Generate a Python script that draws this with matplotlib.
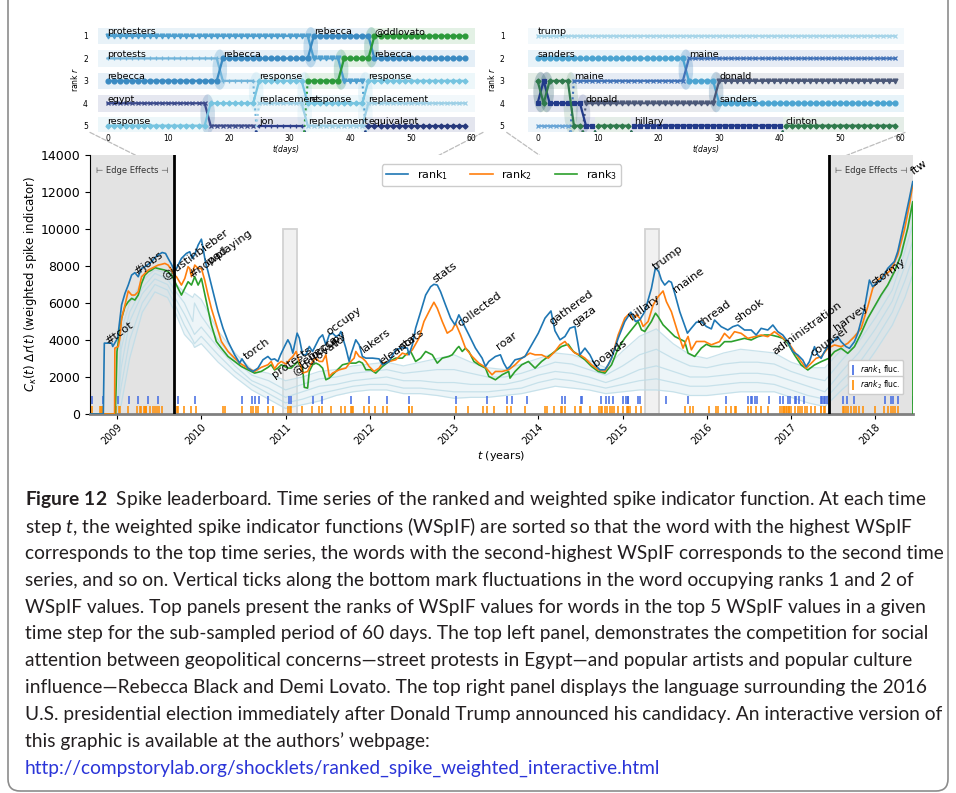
"""Spike leaderboard: ranked weighted spike indicator time series, two
60-day rank-flow insets and the figure caption underneath."""

import numpy as np
import matplotlib
matplotlib.use("Agg")
import matplotlib.pyplot as plt
from matplotlib.lines import Line2D
from matplotlib.patches import ConnectionPatch, Ellipse, FancyBboxPatch, Rectangle

plt.rcParams["mathtext.rm"] = "Lato"
plt.rcParams["mathtext.it"] = "Lato:italic"
plt.rcParams["mathtext.bf"] = "Lato:bold"

W, H = 956, 793

# ---------------------------------------------------------------- main data
RANK1 = [
    (2008.68, 0), (2008.838, 0), (2008.850, 3830), (2008.937, 3830), (2008.95, 3650),
    (2009.008, 4100), (2009.055, 5900), (2009.095, 6520), (2009.134, 6970), (2009.174, 7510),
    (2009.213, 7640), (2009.252, 7420), (2009.292, 7870), (2009.331, 7960), (2009.371, 8090),
    (2009.410, 8230), (2009.450, 8450), (2009.489, 8590), (2009.536, 8730), (2009.576, 8680),
    (2009.607, 8410), (2009.647, 8090), (2009.679, 7780), (2009.706, 7870), (2009.765, 8410),
    (2009.824, 8680), (2009.864, 8770), (2009.892, 8410), (2009.923, 8630), (2009.963, 9130),
    (2010.002, 9450), (2010.022, 8950), (2010.049, 8230), (2010.081, 7690), (2010.140, 6610),
    (2010.199, 5530), (2010.258, 4640), (2010.318, 3920), (2010.396, 3200), (2010.456, 2750),
    (2010.483, 2980), (2010.515, 2750), (2010.554, 2480), (2010.613, 2300), (2010.673, 2480),
    (2010.732, 2930), (2010.791, 3110), (2010.830, 2930), (2010.870, 2980), (2010.909, 2840),
    (2010.941, 3200), (2010.988, 3650), (2011.028, 4010), (2011.059, 3740), (2011.087, 3290),
    (2011.107, 3740), (2011.138, 4370), (2011.164, 4100), (2011.203, 3200), (2011.243, 3200),
    (2011.282, 3650), (2011.321, 3380), (2011.361, 3740), (2011.400, 4100), (2011.440, 4280),
    (2011.479, 3740), (2011.519, 4280), (2011.558, 4370), (2011.598, 4190), (2011.637, 4280),
    (2011.657, 4460), (2011.716, 3560), (2011.755, 2840), (2011.775, 3200), (2011.814, 3740),
    (2011.834, 4010), (2011.874, 3740), (2011.913, 3110), (2011.953, 3020), (2012.032, 3020),
    (2012.110, 2980), (2012.150, 2660), (2012.229, 2840), (2012.308, 3470), (2012.387, 3590),
    (2012.446, 3560), (2012.465, 3200), (2012.505, 3740), (2012.544, 4640), (2012.604, 5530),
    (2012.663, 6430), (2012.722, 6880), (2012.761, 7010), (2012.801, 6970), (2012.840, 6610),
    (2012.899, 5890), (2012.959, 5180), (2013.010, 4820), (2013.057, 5360), (2013.097, 5000),
    (2013.176, 4280), (2013.254, 3560), (2013.333, 3020), (2013.373, 2570), (2013.412, 2840),
    (2013.491, 3110), (2013.550, 3200), (2013.590, 2750), (2013.629, 2440), (2013.664, 2570),
    (2013.724, 2930), (2013.803, 3020), (2013.842, 3110), (2013.921, 3740), (2014.000, 4370),
    (2014.079, 5180), (2014.150, 5570), (2014.197, 4500), (2014.257, 4010), (2014.316, 4190),
    (2014.375, 4640), (2014.434, 4730), (2014.466, 3920), (2014.493, 3200), (2014.553, 3560),
    (2014.612, 3200), (2014.671, 2660), (2014.730, 2390), (2014.790, 2390), (2014.829, 2660),
    (2014.869, 3020), (2014.948, 4100), (2015.026, 5000), (2015.098, 5500), (2015.153, 5000),
    (2015.204, 5090), (2015.263, 5530), (2015.342, 6790), (2015.390, 7910), (2015.429, 7690),
    (2015.461, 7240), (2015.500, 6970), (2015.548, 7190), (2015.579, 7120), (2015.619, 6520),
    (2015.678, 5530), (2015.769, 4370), (2015.816, 4640), (2015.875, 4960), (2015.934, 5000),
    (2015.994, 4730), (2016.053, 4600), (2016.091, 5080), (2016.170, 4720), (2016.249, 4540),
    (2016.308, 4720), (2016.368, 4810), (2016.447, 4540), (2016.526, 4540), (2016.585, 4270),
    (2016.644, 4630), (2016.723, 4540), (2016.783, 4810), (2016.842, 4450), (2016.901, 4270),
    (2016.960, 3910), (2017.020, 3370), (2017.079, 3190), (2017.138, 2920), (2017.178, 2560),
    (2017.217, 2830), (2017.277, 3640), (2017.316, 3190), (2017.356, 3010), (2017.395, 3370),
    (2017.447, 3730), (2017.494, 3910), (2017.553, 4180), (2017.593, 3910), (2017.652, 3640),
    (2017.692, 3550), (2017.751, 3910), (2017.791, 4360), (2017.870, 5710), (2017.929, 7240),
    (2017.968, 6880), (2018.028, 7150), (2018.067, 7240), (2018.146, 7870), (2018.225, 8240),
    (2018.265, 8780), (2018.344, 10400), (2018.403, 11660), (2018.443, 12560),
]

RANK2 = [
    (2008.68, 0), (2008.972, 0), (2008.975, 3560), (2009.016, 3650), (2009.035, 4100),
    (2009.055, 5180), (2009.095, 5890), (2009.134, 6650), (2009.174, 6430), (2009.213, 6430),
    (2009.252, 6610), (2009.292, 7420), (2009.331, 7600), (2009.371, 7780), (2009.450, 7960),
    (2009.489, 8050), (2009.528, 8090), (2009.568, 8140), (2009.607, 8050), (2009.647, 7780),
    (2009.679, 7510), (2009.706, 7420), (2009.765, 6970), (2009.805, 7330), (2009.844, 7960),
    (2009.864, 7870), (2009.884, 7420), (2009.923, 8050), (2009.963, 7870), (2010.002, 7870),
    (2010.041, 7240), (2010.081, 6430), (2010.120, 5710), (2010.179, 4820), (2010.239, 3920),
    (2010.318, 3380), (2010.396, 3020), (2010.475, 2700), (2010.554, 2480), (2010.633, 2300),
    (2010.712, 2520), (2010.791, 2660), (2010.830, 2840), (2010.870, 2440), (2010.909, 2700),
    (2010.949, 2840), (2011.008, 2700), (2011.047, 2930), (2011.087, 3110), (2011.126, 3380),
    (2011.163, 2840), (2011.203, 2210), (2011.262, 2300), (2011.321, 2840), (2011.361, 3020),
    (2011.400, 2840), (2011.440, 2840), (2011.479, 3200), (2011.519, 2030), (2011.558, 2210),
    (2011.637, 2390), (2011.716, 2480), (2011.775, 2840), (2011.814, 3020), (2011.834, 3380),
    (2011.874, 3110), (2011.913, 3020), (2011.953, 2840), (2011.992, 2570), (2012.051, 2300),
    (2012.110, 2480), (2012.150, 2750), (2012.229, 2840), (2012.308, 2930), (2012.387, 3290),
    (2012.446, 3200), (2012.505, 3470), (2012.584, 4100), (2012.643, 5000), (2012.722, 5710),
    (2012.761, 6040), (2012.801, 5710), (2012.860, 5000), (2012.919, 4370), (2012.978, 4550),
    (2013.018, 4910), (2013.077, 4280), (2013.136, 3560), (2013.215, 3110), (2013.294, 2750),
    (2013.373, 2520), (2013.451, 2120), (2013.491, 2300), (2013.570, 2300), (2013.648, 2390),
    (2013.724, 2660), (2013.803, 3020), (2013.901, 3290), (2013.961, 3200), (2014.039, 3200),
    (2014.118, 3020), (2014.197, 3380), (2014.257, 3740), (2014.316, 3920), (2014.375, 3560),
    (2014.434, 3290), (2014.493, 3200), (2014.553, 3020), (2014.632, 2660), (2014.711, 2390),
    (2014.790, 2300), (2014.869, 3020), (2014.948, 4280), (2015.026, 5180), (2015.086, 5450),
    (2015.125, 5090), (2015.165, 5360), (2015.204, 5180), (2015.244, 4730), (2015.303, 5000),
    (2015.362, 5890), (2015.421, 6340), (2015.480, 6650), (2015.520, 6070), (2015.579, 5530),
    (2015.658, 4370), (2015.717, 3560), (2015.757, 4010), (2015.777, 4190), (2015.816, 3470),
    (2015.875, 3920), (2015.974, 3920), (2016.053, 3740), (2016.150, 3910), (2016.209, 4360),
    (2016.269, 4090), (2016.328, 4450), (2016.407, 4360), (2016.486, 4090), (2016.565, 4180),
    (2016.644, 4270), (2016.723, 4180), (2016.802, 4450), (2016.881, 4180), (2016.960, 3910),
    (2017.040, 3370), (2017.119, 2830), (2017.178, 2470), (2017.237, 2740), (2017.296, 3010),
    (2017.356, 3100), (2017.435, 3550), (2017.514, 3730), (2017.593, 3640), (2017.672, 3820),
    (2017.751, 4180), (2017.830, 4630), (2017.909, 5800), (2017.968, 6790), (2018.028, 7240),
    (2018.107, 7510), (2018.186, 7780), (2018.265, 8600), (2018.344, 9950), (2018.403, 11300),
    (2018.443, 12380),
]

RANK3 = [
    (2008.68, 0), (2008.98, 0), (2008.99, 1500), (2009.000, 3380), (2009.035, 4550),
    (2009.055, 5180), (2009.095, 5800), (2009.134, 6070), (2009.174, 6250), (2009.213, 6160),
    (2009.252, 6430), (2009.292, 7060), (2009.331, 7510), (2009.371, 7690), (2009.410, 7780),
    (2009.450, 7910), (2009.509, 7840), (2009.568, 7780), (2009.607, 7690), (2009.647, 7510),
    (2009.679, 7240), (2009.706, 6970), (2009.765, 6430), (2009.805, 6790), (2009.844, 7150),
    (2009.884, 6970), (2009.923, 7420), (2009.963, 6970), (2010.002, 7330), (2010.061, 6070),
    (2010.120, 4820), (2010.179, 3920), (2010.239, 3560), (2010.318, 3110), (2010.396, 2840),
    (2010.475, 2570), (2010.554, 2390), (2010.633, 2210), (2010.712, 2300), (2010.791, 2520),
    (2010.830, 2660), (2010.870, 2380), (2010.909, 2480), (2010.949, 2660), (2011.028, 2480),
    (2011.067, 2480), (2011.107, 2660), (2011.146, 2840), (2011.163, 2660), (2011.203, 2480),
    (2011.223, 1440), (2011.262, 1400), (2011.282, 2300), (2011.321, 2660), (2011.361, 2750),
    (2011.400, 2660), (2011.440, 2480), (2011.479, 1850), (2011.519, 1940), (2011.598, 2300),
    (2011.676, 2660), (2011.755, 2750), (2011.834, 2750), (2011.874, 2840), (2011.913, 2750),
    (2011.953, 2390), (2012.012, 2390), (2012.071, 2210), (2012.150, 2570), (2012.229, 2840),
    (2012.308, 3020), (2012.387, 3020), (2012.446, 3290), (2012.485, 3380), (2012.544, 2840),
    (2012.604, 3020), (2012.663, 3380), (2012.742, 3200), (2012.801, 2750), (2012.860, 3020),
    (2012.938, 3110), (2012.978, 3200), (2013.037, 3560), (2013.057, 3650), (2013.097, 3380),
    (2013.136, 3560), (2013.176, 3380), (2013.235, 2840), (2013.294, 2660), (2013.373, 2480),
    (2013.412, 2030), (2013.491, 1850), (2013.570, 2120), (2013.648, 2300), (2013.664, 1940),
    (2013.724, 2300), (2013.803, 2660), (2013.882, 2840), (2013.961, 2480), (2014.039, 2840),
    (2014.118, 3110), (2014.197, 3380), (2014.276, 3650), (2014.355, 3770), (2014.415, 3380),
    (2014.474, 3200), (2014.553, 2930), (2014.632, 2570), (2014.711, 2300), (2014.790, 2210),
    (2014.869, 2660), (2014.948, 3560), (2015.026, 4100), (2015.105, 4550), (2015.184, 5000),
    (2015.224, 4550), (2015.263, 4460), (2015.342, 5000), (2015.390, 5450), (2015.421, 5270),
    (2015.480, 4820), (2015.540, 4550), (2015.619, 4190), (2015.698, 4010), (2015.737, 3920),
    (2015.777, 3290), (2015.856, 3110), (2015.934, 3560), (2015.994, 3770), (2016.053, 3650),
    (2016.150, 3640), (2016.209, 3910), (2016.289, 3910), (2016.368, 4000), (2016.447, 4090),
    (2016.526, 4000), (2016.605, 4180), (2016.684, 4270), (2016.763, 4270), (2016.842, 4180),
    (2016.901, 4090), (2016.960, 3820), (2017.040, 3190), (2017.119, 2650), (2017.198, 2380),
    (2017.277, 2650), (2017.356, 2830), (2017.447, 3010), (2017.514, 3370), (2017.593, 3550),
    (2017.672, 3280), (2017.751, 3640), (2017.830, 4360), (2017.909, 5170), (2017.988, 5800),
    (2018.067, 6430), (2018.146, 6970), (2018.225, 7690), (2018.304, 8600), (2018.383, 10040),
    (2018.443, 11480), (2018.445, 0),
]

# lower-rank series (light blue background band)
BG_T = [2009.0, 2009.05, 2009.15, 2009.3, 2009.45, 2009.6, 2009.7, 2009.8, 2009.9, 2009.92,
        2010.0, 2010.2, 2010.4, 2010.6, 2010.8, 2011.0, 2011.2, 2011.4, 2011.6, 2011.8,
        2012.0, 2012.2, 2012.4, 2012.6, 2012.8, 2013.0, 2013.2, 2013.4, 2013.6, 2013.8,
        2014.0, 2014.2, 2014.4, 2014.6, 2014.8, 2015.0, 2015.2, 2015.4, 2015.6, 2015.8,
        2016.0, 2016.2, 2016.4, 2016.6, 2016.8, 2017.0, 2017.2, 2017.4, 2017.6, 2017.8,
        2018.0, 2018.2, 2018.35, 2018.44]
BG_A = [0, 4500, 6000, 7200, 7800, 7600, 7000, 6600, 6300, 6500, 6200, 4500, 3300, 2400, 2200,
        1800, 2000, 2300, 2400, 2600, 2700, 2800, 2600, 2800, 3000, 3200, 2800, 2500, 2400, 2700,
        3000, 3300, 3200, 2900, 2500, 3400, 4200, 4600, 3800, 3200, 3000, 3300, 3500, 3400, 3300,
        2800, 2500, 2500, 3500, 4500, 5800, 7300, 9500, 11000]
BG_B = [0, 3500, 5500, 6800, 7600, 7300, 6600, 6000, 5000, 6000, 5300, 4000, 2900, 2100, 1800,
        1300, 1600, 1900, 2000, 2200, 2300, 2400, 2200, 2300, 2400, 2400, 2200, 2000, 2000, 2200,
        2500, 2800, 2700, 2400, 2100, 2600, 3200, 3500, 3000, 2600, 2500, 2700, 2800, 2800, 2700,
        2300, 2000, 1800, 2900, 3900, 5200, 6700, 8800, 10200]
BG_C = [0, 2500, 5000, 6500, 7300, 7000, 6200, 5400, 4500, 4300, 4700, 3600, 2600, 1800, 1400,
        900, 1200, 1500, 1600, 1800, 1900, 2000, 1800, 1800, 1700, 1700, 1600, 1600, 1600, 1800,
        2100, 2300, 2200, 2000, 1700, 2000, 2400, 2600, 2300, 2000, 2000, 2100, 2200, 2200, 2100,
        1800, 1500, 1200, 2300, 3300, 4600, 6100, 8000, 9300]
BG_D = [0, 1500, 4000, 6000, 7000, 6700, 5800, 4800, 4000, 3800, 4200, 3200, 2300, 1600, 1100,
        600, 800, 1100, 1300, 1500, 1600, 1600, 1400, 1400, 1300, 1200, 1200, 1200, 1300, 1400,
        1700, 1900, 1800, 1600, 1400, 1600, 1800, 1900, 1700, 1500, 1500, 1600, 1700, 1700, 1600,
        1300, 1000, 800, 1800, 2700, 4000, 5500, 7200, 8400]
BG_E = [0, 500, 3000, 5500, 6600, 6300, 5400, 4300, 3800, 3600, 3800, 2800, 2000, 1300, 800,
        300, 500, 700, 1000, 1200, 1300, 1300, 1100, 1100, 1000, 850, 900, 900, 1000, 1100,
        1300, 1500, 1400, 1300, 1100, 1200, 1300, 1300, 1200, 1000, 1000, 1100, 1200, 1200, 1200,
        900, 600, 400, 1300, 2100, 3400, 4800, 6300, 7500]

# fluctuation ticks along the bottom
BLUE_FLUC = [2008.70, 2008.83, 2009.008, 2009.14, 2009.25, 2009.37, 2009.49, 2009.72, 2009.93,
             2010.48, 2010.60, 2010.64, 2010.68, 2010.79, 2011.04, 2011.07, 2011.33, 2011.43,
             2011.78, 2011.99, 2012.20, 2012.47, 2013.02, 2013.39, 2013.63, 2013.69, 2013.86,
             2014.28, 2014.32, 2014.51, 2014.52, 2014.74, 2014.80, 2014.84, 2014.89, 2015.01,
             2015.04, 2015.06, 2015.07, 2015.18, 2015.21, 2015.51, 2015.78, 2016.23, 2016.49,
             2016.52, 2016.54, 2016.57, 2016.60, 2016.74, 2016.87, 2016.90, 2016.96, 2016.99,
             2017.04, 2017.06, 2017.09, 2017.15, 2017.36, 2017.37, 2017.39, 2017.40, 2017.42,
             2017.62, 2017.66, 2017.75, 2018.11, 2018.19, 2018.21, 2018.27, 2018.445]
ORANGE_FLUC = [2008.70, 2008.80, 2008.81, 2008.82, 2008.83, 2008.98, 2008.99, 2009.02, 2009.04,
               2009.13, 2009.24, 2009.27, 2009.29, 2009.32, 2009.33, 2009.34, 2009.35, 2009.39,
               2009.43, 2009.45, 2009.47, 2009.50, 2009.53, 2009.71, 2009.73, 2009.79, 2009.88,
               2009.94, 2010.26, 2010.28, 2010.48, 2010.59, 2010.61, 2010.65, 2010.67, 2010.79,
               2010.85, 2011.03, 2011.05, 2011.07, 2011.19, 2011.32, 2011.40, 2011.43, 2011.54,
               2011.66, 2011.71, 2011.78, 2011.79, 2011.80, 2011.93, 2011.99, 2012.06, 2012.16,
               2012.21, 2012.46, 2012.47, 2012.50, 2013.02, 2013.16, 2013.34, 2013.39, 2013.47,
               2013.63, 2013.68, 2013.84, 2014.08, 2014.10, 2014.19, 2014.27, 2014.28, 2014.32,
               2014.43, 2014.49, 2014.51, 2014.61, 2014.72, 2014.74, 2014.76, 2014.79, 2014.81,
               2014.85, 2014.87, 2014.90, 2014.95, 2015.01, 2015.05, 2015.06, 2015.07, 2015.09,
               2015.16, 2015.22, 2015.74, 2015.80, 2015.84, 2016.03, 2016.11, 2016.13, 2016.23,
               2016.29, 2016.33, 2016.35, 2016.49, 2016.52, 2016.58, 2016.64, 2016.72, 2016.87,
               2016.89, 2016.91, 2016.92, 2016.94, 2016.95, 2016.97, 2016.98, 2017.00, 2017.04,
               2017.08, 2017.11, 2017.13, 2017.16, 2017.19, 2017.24, 2017.28, 2017.35, 2017.36,
               2017.39, 2017.40, 2017.61, 2017.63, 2017.65, 2017.67, 2017.71, 2017.74, 2017.77,
               2017.80, 2017.85, 2017.99, 2018.10, 2018.15, 2018.19, 2018.21, 2018.23, 2018.27]

# words annotated on the rank-1 curve
WORDS = ["#tcot", "#jobs", "@justinbieber", "#nowplaying", "ipad", "torch", "protests",
         "@ddlovato", "rebecca", "occupy", "occupy", "lakers", "eleanor", "stats", "stats",
         "collected", "roar", "gathered", "gaza", "boards", "hillary", "trump", "maine",
         "thread", "shook", "administration", "counsel", "harvey", "stormy", "ftw"]
WORD_T = [2008.905, 2009.253, 2009.588, 2009.905, 2010.10, 2010.549, 2010.893, 2011.13,
          2011.213, 2011.352, 2011.53, 2011.945, 2012.163, 2012.40, 2012.796, 2013.093,
          2013.547, 2014.179, 2014.456, 2014.694, 2015.128, 2015.405, 2015.643, 2015.958,
          2016.374, 2016.821, 2017.283, 2017.56, 2017.995, 2018.47]
WORD_V = [3640, 7420, 7120, 7240, 7960, 2830, 1840, 2020, 2470, 2860, 4180, 3190, 2560, 3370,
          6970, 4590, 3370, 4720, 4630, 2470, 4990, 7690, 6430, 4630, 4810, 3100, 3010, 4360,
          6790, 12830]

YEARS = [2009, 2010, 2011, 2012, 2013, 2014, 2015, 2016, 2017, 2018]
X_LIM = (2008.68, 2018.446)
EDGE_LEFT, EDGE_RIGHT = 2009.68, 2017.45
WINDOW_LEFT = (2010.97, 2011.135)
WINDOW_RIGHT = (2015.27, 2015.435)
WINDOW_TOP = 10000

# ------------------------------------------------------- inset rank data
# each word: (first day, last day, rank) runs
L_PROTESTERS = [(0, 33, 1), (34, 38, 2), (39, 42, 3)]
L_PROTESTS = [(0, 18, 2), (19, 24, 3)]
L_REBECCA = [(0, 18, 3), (19, 33, 2), (34, 43, 1), (44, 59, 2)]
L_EGYPT = [(0, 16, 4), (17, 24, 5)]
L_RESPONSE = [(0, 16, 5), (17, 24, 4), (25, 32, 3), (33, 42, 4), (43, 59, 3)]
L_REPLACEMENT = [(25, 32, 4), (33, 42, 5), (43, 59, 4)]
L_JON = [(25, 32, 5)]
L_EQUIVALENT = [(43, 59, 5)]
L_DDLOVATO = [(33, 38, 3), (39, 43, 2), (44, 59, 1)]

R_TRUMP = [(0, 59, 1)]
R_SANDERS = [(0, 24, 2), (25, 29, 3), (30, 59, 4)]
R_MAINE = [(6, 24, 3), (25, 59, 2)]
R_DONALD = [(8, 29, 4), (30, 59, 3)]
R_HILLARY = [(0, 0, 4), (1, 1, 3), (2, 7, 4), (8, 9, 5), (16, 40, 5)]
R_CLINTON = [(0, 0, 3), (1, 1, 4), (2, 5, 3), (6, 7, 5), (10, 15, 5), (41, 59, 5)]
R_OTHER = [(0, 5, 5)]

LEFT_LABELS = [("protesters", 0, 1), ("protests", 0, 2), ("rebecca", 0, 3), ("egypt", 0, 4),
               ("response", 0, 5), ("rebecca", 19, 2), ("response", 25, 3),
               ("replacement", 25, 4), ("jon", 25, 5), ("rebecca", 34, 1),
               ("response", 33, 4), ("replacement", 33, 5), ("@ddlovato", 44, 1),
               ("rebecca", 44, 2), ("response", 43, 3), ("replacement", 43, 4),
               ("equivalent", 43, 5)]
RIGHT_LABELS = [("trump", 0, 1), ("sanders", 0, 2), ("maine", 6, 3), ("donald", 8, 4),
                ("maine", 25, 2), ("donald", 30, 3), ("sanders", 30, 4), ("hillary", 16, 5),
                ("clinton", 41, 5)]

STYLE = {
    "protesters": ("#4e9fcf", "v"),
    "protests": ("#73b5da", "+"),
    "rebecca": ("#3a8ac2", "o"),
    "egypt": ("#3c4b8c", "x"),
    "response": ("#76c4e0", "D"),
    "replacement": ("#9ed0e6", "x"),
    "jon": ("#2d3f8c", "+"),
    "equivalent": ("#27397c", "D"),
    "@ddlovato": ("#2c9a3a", "o"),
    "trump": ("#a7d5e9", "x"),
    "sanders": ("#4ba4d1", "o"),
    "maine": ("#4273b8", "x"),
    "donald": ("#4b5878", "v"),
    "hillary": ("#223a8a", "s"),
    "clinton": ("#2f7a4c", "D"),
    "other": ("#6aa5d6", "x"),
}

CAPTION_LINES = [
    r"$\mathbf{Figure\ 12}$  Spike leaderboard. Time series of the ranked and weighted spike indicator function. At each time",
    r"step $t$, the weighted spike indicator functions (WSpIF) are sorted so that the word with the highest WSpIF",
    "corresponds to the top time series, the words with the second-highest WSpIF corresponds to the second time",
    "series, and so on. Vertical ticks along the bottom mark fluctuations in the word occupying ranks 1 and 2 of",
    "WSpIF values. Top panels present the ranks of WSpIF values for words in the top 5 WSpIF values in a given",
    "time step for the sub-sampled period of 60 days. The top left panel, demonstrates the competition for social",
    "attention between geopolitical concerns\u2014street protests in Egypt\u2014and popular artists and popular culture",
    "influence\u2014Rebecca Black and Demi Lovato. The top right panel displays the language surrounding the 2016",
    "U.S. presidential election immediately after Donald Trump announced his candidacy. An interactive version of",
    "this graphic is available at the authors\u2019 webpage:",
    "http://compstorylab.org/shocklets/ranked_spike_weighted_interactive.html",
]


def fig_rect(x0, y0, x1, y1):
    """pixel box (top-left origin) -> figure-fraction axes rect"""
    return [x0 / W, 1 - y1 / H, (x1 - x0) / W, (y1 - y0) / H]


def expand(segs):
    days, ranks = [], []
    prev = None
    for a, b, r in segs:
        if prev is not None and a != prev + 1:
            days.append(np.nan)
            ranks.append(np.nan)
        for d in range(a, b + 1):
            days.append(d)
            ranks.append(r)
        prev = b
    return np.array(days, float), np.array(ranks, float)


def draw_rank_panel(ax, words, labels, xlim, ybot):
    for name, segs in words:
        color = STYLE[name][0]
        for a, b, r in segs:
            x0 = -1.5 if a == 0 else a - 0.5
            x1 = 60.5 if b == 59 else b + 0.5
            ax.add_patch(Rectangle((x0, r - 0.37), x1 - x0, 0.74, facecolor=color,
                                   alpha=0.13, lw=0, zorder=0))
    for name, segs in words:
        color, marker = STYLE[name]
        d, r = expand(segs)
        for i in range(len(d) - 1):
            if np.isnan(r[i]) or np.isnan(r[i + 1]) or r[i] == r[i + 1]:
                continue
            ax.add_patch(Ellipse(((d[i] + d[i + 1]) / 2, (r[i] + r[i + 1]) / 2), 2.4,
                                 abs(r[i + 1] - r[i]) + 0.8, facecolor=color, alpha=0.15,
                                 lw=0, zorder=1))
        ms = 2.6 if marker in ("D", "s") else 3.5
        ax.plot(d, r, color=color, marker=marker, ms=ms, lw=1.6, mew=0.9, zorder=3)
        # entering from / dropping out below rank 5
        blocks = np.split(np.arange(len(d)), np.where(np.isnan(d))[0])
        for blk in blocks:
            blk = [i for i in blk if not np.isnan(d[i])]
            if not blk:
                continue
            first, last = blk[0], blk[-1]
            if d[first] > 0:
                ax.plot([d[first] - 0.6, d[first]], [ybot, r[first]], ls=":", color=color,
                        lw=1.5, zorder=2)
            if d[last] < 59:
                ax.plot([d[last], d[last] + 0.6], [r[last], ybot], ls=":", color=color,
                        lw=1.5, zorder=2)
    for word, day, rank in labels:
        ax.text(day, rank + 0.02, word, fontsize=6.8, ha="left", va="bottom", zorder=5)

    ax.set_xlim(*xlim)
    ax.set_ylim(ybot, 0.55)
    ax.set_xticks(range(0, 61, 10))
    ax.set_yticks([1, 2, 3, 4, 5])
    ax.tick_params(length=0, labelsize=5.5, pad=1.5)
    for s in ax.spines.values():
        s.set_visible(False)
    ax.set_facecolor("none")
    ax.set_xlabel("t(days)", fontsize=5.5, fontstyle="italic", labelpad=1)
    ax.set_ylabel("rank $r$", fontsize=5.5, labelpad=2)


def draw_caption(fig):
    renderer = fig.canvas.get_renderer()
    probe = fig.text(0, 0, CAPTION_LINES[2], fontsize=10, family="Lato")
    width = probe.get_window_extent(renderer).width
    probe.remove()
    size = 10 * 922 / width
    for i, line in enumerate(CAPTION_LINES):
        color = "#2b35d8" if line.startswith("http") else "#231f20"
        fig.text(25 / W, 1 - (500 + 26.8 * i) / H, line, fontsize=size, family="Lato",
                 color=color, va="center", math_fontfamily="custom")


def main():
    fig = plt.figure(figsize=(W / 100, H / 100), dpi=100)

    # ---------------------------------------------------------- main panel
    ax = fig.add_axes(fig_rect(90, 155, 913, 414))
    ax.axvspan(X_LIM[0], EDGE_LEFT, color="#e3e3e3", lw=0, zorder=0)
    ax.axvspan(EDGE_RIGHT, X_LIM[1], color="#e3e3e3", lw=0, zorder=0)

    for lo, hi in (WINDOW_LEFT, WINDOW_RIGHT):
        ax.add_patch(Rectangle((lo, 0), hi - lo, WINDOW_TOP, facecolor="#f1f1f1",
                               edgecolor="#d2d2d2", lw=1.3, zorder=0.5))

    bg = np.array([BG_A, BG_B, BG_C, BG_D, BG_E], float)
    ax.fill_between(BG_T, bg.min(axis=0), bg.max(axis=0), color="#d3e8ef", alpha=0.4,
                    lw=0, zorder=1)
    for series in bg:
        ax.plot(BG_T, series, color="#bddce7", lw=0.9, alpha=0.8, zorder=1.2)

    handles = []
    for data, color, lab in ((RANK1, "#1f77b4", "rank$_1$"),
                             (RANK2, "#ff7f0e", "rank$_2$"),
                             (RANK3, "#2ca02c", "rank$_3$")):
        t, v = np.array(data).T
        ln, = ax.plot(t, v, color=color, lw=1.2, label=lab, zorder=3)
        handles.append(ln)
    handles[0].set_zorder(3.3)
    handles[1].set_zorder(3.2)

    ax.axvline(EDGE_LEFT, color="black", lw=2, zorder=4)
    ax.axvline(EDGE_RIGHT, color="black", lw=2, zorder=4)

    ax.vlines(BLUE_FLUC, 550, 950, color="#4169e1", lw=1.1, zorder=2)
    ax.vlines(ORANGE_FLUC, 0, 450, color="#ff8c00", lw=1.1, zorder=2)

    for word, t, v in zip(WORDS, WORD_T, WORD_V):
        ax.text(t, v, word, fontsize=8.2, rotation=36, rotation_mode="anchor",
                ha="left", va="bottom", zorder=5)

    for x in ((X_LIM[0] + EDGE_LEFT) / 2, (EDGE_RIGHT + X_LIM[1]) / 2):
        ax.text(x, 13150, "\u22a2 Edge Effects \u22a3", fontsize=6, ha="center",
                va="center", color="#333333", zorder=5)

    ax.set_xlim(*X_LIM)
    ax.set_ylim(0, 14000)
    ax.set_yticks(range(0, 14001, 2000))
    ax.set_xticks(YEARS)
    ax.set_xticklabels([str(y) for y in YEARS])
    ax.tick_params(axis="y", labelsize=9)
    ax.tick_params(axis="x", labelsize=7, pad=2)
    for lab in ax.get_xticklabels():
        lab.set_rotation(45)
        lab.set_ha("right")
        lab.set_rotation_mode("anchor")
    ax.set_xlabel("$t$ (years)", fontsize=8, labelpad=2)
    ax.set_ylabel(r"$C_\kappa(t)\ \Delta r(t)$ (weighted spike indicator)", fontsize=8.5,
                  labelpad=1)
    ax.spines["top"].set_visible(False)
    ax.spines["right"].set_visible(False)
    ax.spines["bottom"].set_color("#808080")
    ax.spines["bottom"].set_linewidth(2)

    leg = ax.legend(handles=handles, loc="upper center", bbox_to_anchor=(0.5, 0.985),
                    ncol=3, fontsize=8, columnspacing=2.0, handlelength=2.0,
                    borderpad=0.35, framealpha=1, edgecolor="#cccccc")
    ax.add_artist(leg)
    h1 = Line2D([], [], marker="|", ls="none", color="#4169e1", ms=7, mew=1.2)
    h2 = Line2D([], [], marker="|", ls="none", color="#ff8c00", ms=7, mew=1.2)
    leg_b = ax.legend([h1], ["$rank_1$ fluc."], loc="lower right",
                      bbox_to_anchor=(0.988, 0.135), fontsize=5.5, handlelength=0.6,
                      handletextpad=0.5, borderpad=0.4, borderaxespad=0,
                      framealpha=1, edgecolor="#cccccc")
    ax.add_artist(leg_b)
    ax.legend([h2], ["$rank_2$ fluc."], loc="lower right", bbox_to_anchor=(0.988, 0.076),
              fontsize=5.5, handlelength=0.6, handletextpad=0.5, borderpad=0.4,
              borderaxespad=0, framealpha=1, edgecolor="#cccccc")

    # ---------------------------------------------------------- insets
    ybot = 5.3
    axl = fig.add_axes(fig_rect(90, 25.9, 483, 132.4))
    left_words = [("protesters", L_PROTESTERS), ("protests", L_PROTESTS),
                  ("rebecca", L_REBECCA), ("egypt", L_EGYPT), ("response", L_RESPONSE),
                  ("replacement", L_REPLACEMENT), ("jon", L_JON),
                  ("equivalent", L_EQUIVALENT), ("@ddlovato", L_DDLOVATO)]
    draw_rank_panel(axl, left_words, LEFT_LABELS, (-2.9, 61.9), ybot)

    axr = fig.add_axes(fig_rect(506.7, 25.9, 905, 132.4))
    right_words = [("trump", R_TRUMP), ("sanders", R_SANDERS), ("maine", R_MAINE),
                   ("donald", R_DONALD), ("other", R_OTHER), ("hillary", R_HILLARY),
                   ("clinton", R_CLINTON)]
    draw_rank_panel(axr, right_words, RIGHT_LABELS, (-5.1, 60.7), ybot)

    for inset, (lo, hi) in ((axl, WINDOW_LEFT), (axr, WINDOW_RIGHT)):
        x0, x1 = inset.get_xlim()
        for xa, xb in ((x0, lo), (x1, hi)):
            con = ConnectionPatch(xyA=(xa, ybot), coordsA=inset.transData,
                                  xyB=(xb, WINDOW_TOP), coordsB=ax.transData,
                                  ls="--", color="#bdbdbd", lw=0.9, zorder=0)
            fig.add_artist(con)

    # ---------------------------------------------------------- caption
    draw_caption(fig)
    fig.add_artist(FancyBboxPatch((0.08, 0.02), 9.40, 10.0,
                                  boxstyle="round,pad=0,rounding_size=0.12",
                                  transform=fig.dpi_scale_trans, fill=False,
                                  edgecolor="#8c8c8c", lw=1.2))

    fig.savefig("out.png", dpi=100)


if __name__ == "__main__":
    main()
